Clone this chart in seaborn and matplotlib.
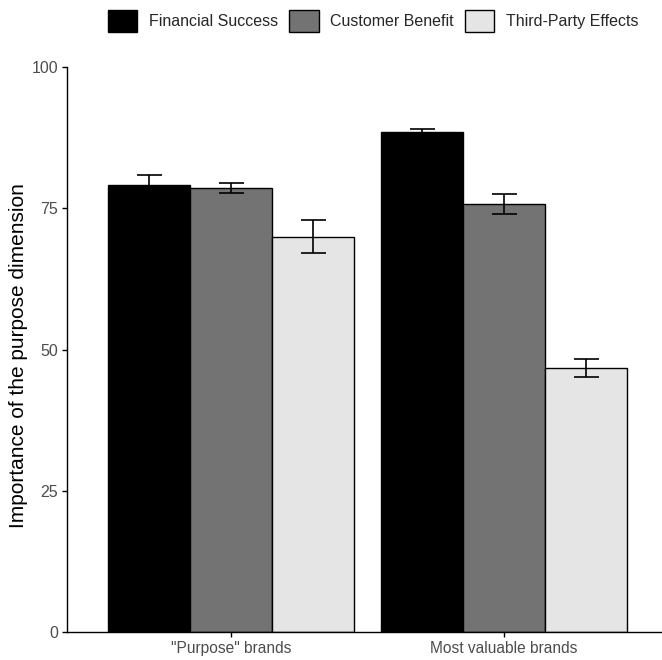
import matplotlib
matplotlib.use("Agg")
import matplotlib.pyplot as plt
import seaborn as sns
import pandas as pd
import numpy as np
from matplotlib.patches import Patch

groups = ['"Purpose" brands', 'Most valuable brands']
dimensions = ["Financial Success", "Customer Benefit", "Third-Party Effects"]
financial = [79.2, 88.5]
customer = [78.6, 75.7]
third = [70.0, 46.7]
financial_err = [1.6, 0.5]
customer_err = [0.85, 1.75]
third_err = [2.95, 1.6]
colors = ["#000000", "#737373", "#E5E5E5"]
yticks = [0, 25, 50, 75, 100]

rows = []
for dim, vals, errs in zip(dimensions, [financial, customer, third],
                           [financial_err, customer_err, third_err]):
    for g, v, e in zip(groups, vals, errs):
        rows.append({"group": g, "dimension": dim, "value": v, "err": e})
df = pd.DataFrame(rows)

sns.set_style("white")
plt.rcParams["font.family"] = ["Liberation Sans", "DejaVu Sans"]

W, H = 662, 660
fig = plt.figure(figsize=(W / 100, H / 100), dpi=100)
ax_left, ax_right, ax_bottom, ax_top = 67, 668, 632, 67
ax = fig.add_axes([ax_left / W, (H - ax_bottom) / H,
                   (ax_right - ax_left) / W, (ax_bottom - ax_top) / H])

sns.barplot(data=df, x="group", y="value", hue="dimension", order=groups,
            hue_order=dimensions, palette=colors, edgecolor="black",
            linewidth=1.0, width=0.9, errorbar=None, ax=ax, legend=False)

for container, dim in zip(ax.containers, dimensions):
    sub = df[df["dimension"] == dim].set_index("group").loc[groups]
    xs = [b.get_x() + b.get_width() / 2 for b in container]
    ax.errorbar(xs, sub["value"].values, yerr=sub["err"].values, fmt="none",
                ecolor="black", elinewidth=1.2, capsize=9, capthick=1.2, zorder=5)

ax.set_xlim(-0.6, 1.6)
ax.set_ylim(0, 100)
ax.set_yticks(yticks)
ax.set_yticklabels([str(t) for t in yticks])
ax.set_xlabel("")
ax.set_ylabel("Importance of the purpose dimension", fontsize=15, color="black")
ax.yaxis.set_label_coords((28 - ax_left) / (ax_right - ax_left), 0.49)
for s in ["top", "right"]:
    ax.spines[s].set_visible(False)
for s in ["left", "bottom"]:
    ax.spines[s].set_color("black")
    ax.spines[s].set_linewidth(1.0)
ax.tick_params(axis="both", which="both", length=3.8, width=1, color="black",
               labelcolor="#4D4D4D", labelsize=11.5, left=True, bottom=True, pad=2.5)
ax.tick_params(axis="x", labelsize=11.2)

handles = [Patch(facecolor=c, edgecolor="black", linewidth=1.0) for c in colors]
fig.legend(handles, dimensions, loc="center", bbox_to_anchor=(373 / W, 1 - 21 / H),
           ncol=3, frameon=False, fontsize=11.5, handlelength=1.85, handleheight=1.75,
           handletextpad=0.72, columnspacing=0.7)

fig.savefig("out.png", dpi=100)
